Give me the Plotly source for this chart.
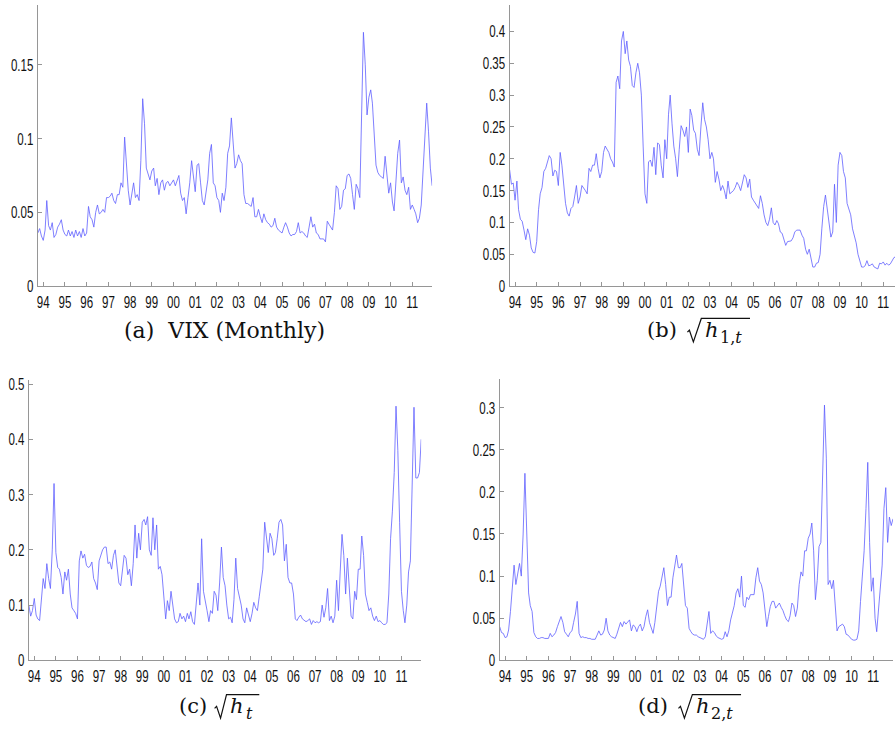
import pandas as pd
import plotly.graph_objects as go

# Monthly observations, Oct 1993 onwards
start = "1993-10-01"

vix = [0.036, 0.039, 0.034, 0.031, 0.038, 0.058, 0.041, 0.038, 0.043, 0.033, 0.035, 0.040,
       0.042, 0.045, 0.038, 0.035, 0.034, 0.038, 0.034, 0.037, 0.033, 0.038, 0.034, 0.037,
       0.033, 0.039, 0.034, 0.036, 0.054, 0.047, 0.045, 0.040, 0.050, 0.055, 0.049, 0.050,
       0.052, 0.050, 0.060, 0.060, 0.061, 0.063, 0.058, 0.056, 0.062, 0.062, 0.070, 0.067,
       0.101, 0.080, 0.065, 0.055, 0.062, 0.070, 0.060, 0.062, 0.058, 0.085, 0.127, 0.110,
       0.080, 0.075, 0.072, 0.078, 0.080, 0.068, 0.073, 0.062, 0.070, 0.072, 0.065, 0.070,
       0.071, 0.068, 0.070, 0.072, 0.068, 0.071, 0.075, 0.063, 0.058, 0.060, 0.049, 0.060,
       0.070, 0.085, 0.075, 0.064, 0.082, 0.083, 0.070, 0.058, 0.055, 0.062, 0.072, 0.090,
       0.096, 0.070, 0.068, 0.060, 0.058, 0.050, 0.063, 0.058, 0.067, 0.090, 0.095, 0.114,
       0.095, 0.080, 0.083, 0.089, 0.085, 0.083, 0.062, 0.056, 0.056, 0.055, 0.054, 0.060,
       0.047, 0.047, 0.052, 0.047, 0.043, 0.049, 0.045, 0.043, 0.042, 0.040, 0.041, 0.046,
       0.040, 0.038, 0.037, 0.036, 0.040, 0.043, 0.040, 0.036, 0.034, 0.035, 0.035, 0.037,
       0.043, 0.036, 0.037, 0.036, 0.034, 0.033, 0.040, 0.047, 0.040, 0.042, 0.036, 0.035,
       0.032, 0.032, 0.032, 0.030, 0.044, 0.042, 0.040, 0.038, 0.050, 0.068, 0.066, 0.052,
       0.054, 0.065, 0.066, 0.075, 0.076, 0.073, 0.062, 0.052, 0.069, 0.066, 0.060, 0.120,
       0.172, 0.150, 0.116, 0.128, 0.133, 0.124, 0.100, 0.082, 0.077, 0.075, 0.074, 0.073,
       0.088, 0.072, 0.063, 0.070, 0.057, 0.051, 0.068, 0.090, 0.099, 0.070, 0.074, 0.065,
       0.062, 0.067, 0.052, 0.055, 0.052, 0.049, 0.043, 0.046, 0.055, 0.080, 0.100, 0.124,
       0.105, 0.080, 0.068]

h1 = [0.183, 0.160, 0.162, 0.135, 0.165, 0.120, 0.105, 0.102, 0.088, 0.073, 0.090, 0.080,
      0.060, 0.053, 0.052, 0.070, 0.120, 0.145, 0.155, 0.180, 0.185, 0.195, 0.205, 0.200,
      0.173, 0.182, 0.180, 0.158, 0.210, 0.190, 0.160, 0.130, 0.115, 0.110, 0.122, 0.125,
      0.140, 0.158, 0.130, 0.140, 0.158, 0.155, 0.150, 0.145, 0.185, 0.180, 0.190, 0.190,
      0.208, 0.185, 0.170, 0.180, 0.210, 0.220, 0.215, 0.210, 0.200, 0.195, 0.187, 0.320,
      0.330, 0.310, 0.385, 0.400, 0.365, 0.385, 0.355, 0.345, 0.315, 0.312, 0.335, 0.350,
      0.335, 0.300, 0.220, 0.145, 0.130, 0.195, 0.198, 0.188, 0.218, 0.175, 0.225, 0.222,
      0.190, 0.170, 0.230, 0.200, 0.270, 0.300, 0.255, 0.220, 0.200, 0.172, 0.215, 0.252,
      0.245, 0.235, 0.250, 0.210, 0.278, 0.268, 0.245, 0.240, 0.215, 0.205, 0.250, 0.288,
      0.262, 0.250, 0.230, 0.200, 0.210, 0.200, 0.163, 0.180, 0.168, 0.150, 0.158, 0.150,
      0.137, 0.165, 0.145, 0.148, 0.150, 0.155, 0.163, 0.158, 0.150, 0.162, 0.175, 0.170,
      0.155, 0.168, 0.140, 0.135, 0.130, 0.125, 0.122, 0.142, 0.130, 0.112, 0.100, 0.095,
      0.105, 0.123, 0.100, 0.096, 0.103, 0.098, 0.085, 0.083, 0.072, 0.064, 0.070, 0.070,
      0.071, 0.076, 0.085, 0.088, 0.088, 0.088, 0.080, 0.075, 0.058, 0.050, 0.058, 0.040,
      0.030, 0.030, 0.036, 0.037, 0.050, 0.090, 0.125, 0.143, 0.120, 0.095, 0.077, 0.085,
      0.160, 0.100, 0.190, 0.210, 0.205, 0.180, 0.170, 0.130, 0.120, 0.112, 0.090, 0.080,
      0.068, 0.050, 0.040, 0.030, 0.030, 0.032, 0.040, 0.032, 0.033, 0.035, 0.030, 0.028,
      0.027, 0.036, 0.035, 0.038, 0.033, 0.036, 0.033, 0.035, 0.040, 0.045, 0.046]

h = [0.100, 0.080, 0.090, 0.112, 0.082, 0.075, 0.072, 0.105, 0.148, 0.130, 0.175, 0.148,
     0.130, 0.200, 0.320, 0.195, 0.168, 0.165, 0.150, 0.120, 0.160, 0.145, 0.165, 0.120,
     0.095, 0.090, 0.085, 0.075, 0.180, 0.198, 0.185, 0.192, 0.172, 0.168, 0.170, 0.178,
     0.148, 0.140, 0.128, 0.180, 0.190, 0.200, 0.205, 0.205, 0.175, 0.178, 0.165, 0.190,
     0.200, 0.165, 0.140, 0.135, 0.170, 0.190, 0.185, 0.155, 0.165, 0.135, 0.175, 0.245,
     0.185, 0.230, 0.200, 0.250, 0.255, 0.245, 0.260, 0.200, 0.190, 0.258, 0.200, 0.245,
     0.165, 0.170, 0.155, 0.120, 0.075, 0.108, 0.090, 0.125, 0.100, 0.075, 0.068, 0.070,
     0.085, 0.075, 0.080, 0.070, 0.085, 0.075, 0.088, 0.070, 0.065, 0.100, 0.140, 0.100,
     0.220, 0.125, 0.110, 0.090, 0.070, 0.090, 0.085, 0.125, 0.118, 0.090, 0.140, 0.205,
     0.150, 0.135, 0.100, 0.075, 0.078, 0.068, 0.110, 0.185, 0.130, 0.115, 0.100, 0.075,
     0.068, 0.095, 0.080, 0.070, 0.085, 0.105, 0.095, 0.090, 0.115, 0.145, 0.165, 0.250,
     0.220, 0.195, 0.230, 0.220, 0.190, 0.195, 0.220, 0.250, 0.255, 0.245, 0.180, 0.210,
     0.150, 0.140, 0.140, 0.120, 0.075, 0.072, 0.078, 0.082, 0.075, 0.072, 0.070, 0.072,
     0.075, 0.065, 0.072, 0.068, 0.070, 0.068, 0.070, 0.100, 0.078, 0.095, 0.130, 0.072,
     0.080, 0.068, 0.080, 0.145, 0.090, 0.160, 0.228, 0.190, 0.120, 0.185, 0.120, 0.080,
     0.075, 0.125, 0.110, 0.165, 0.165, 0.225, 0.190, 0.120, 0.105, 0.090, 0.095, 0.080,
     0.072, 0.080, 0.070, 0.072, 0.068, 0.065, 0.065, 0.068, 0.120, 0.220, 0.270, 0.340,
     0.460, 0.380, 0.250, 0.125, 0.090, 0.068, 0.100, 0.160, 0.180, 0.300, 0.458, 0.330,
     0.330, 0.340, 0.400]

h2 = [0.040, 0.033, 0.032, 0.027, 0.028, 0.036, 0.058, 0.085, 0.113, 0.090, 0.105, 0.115,
      0.100, 0.150, 0.222, 0.160, 0.080, 0.065, 0.058, 0.033, 0.028, 0.026, 0.026, 0.027,
      0.027, 0.026, 0.026, 0.026, 0.032, 0.028, 0.030, 0.033, 0.040, 0.047, 0.052, 0.045,
      0.034, 0.031, 0.028, 0.033, 0.035, 0.045, 0.055, 0.070, 0.032, 0.027, 0.028, 0.027,
      0.027, 0.026, 0.026, 0.025, 0.025, 0.025, 0.030, 0.035, 0.030, 0.031, 0.036, 0.050,
      0.035, 0.030, 0.028, 0.027, 0.026, 0.031, 0.037, 0.045, 0.040, 0.046, 0.043, 0.046,
      0.048, 0.035, 0.042, 0.040, 0.034, 0.040, 0.043, 0.035, 0.040, 0.052, 0.060, 0.045,
      0.039, 0.032, 0.045, 0.062, 0.082, 0.088, 0.100, 0.110, 0.090, 0.065, 0.075, 0.075,
      0.098, 0.115, 0.125, 0.110, 0.110, 0.115, 0.090, 0.065, 0.062, 0.038, 0.034, 0.031,
      0.030, 0.030, 0.028, 0.027, 0.026, 0.025, 0.028, 0.045, 0.058, 0.032, 0.035, 0.033,
      0.029, 0.027, 0.026, 0.025, 0.026, 0.034, 0.028, 0.035, 0.048, 0.056, 0.065, 0.080,
      0.085, 0.075, 0.100, 0.065, 0.063, 0.075, 0.072, 0.078, 0.078, 0.078, 0.098, 0.110,
      0.094, 0.090, 0.080, 0.060, 0.040, 0.052, 0.064, 0.070, 0.070, 0.062, 0.065, 0.068,
      0.063, 0.059, 0.053, 0.048, 0.046, 0.053, 0.068, 0.065, 0.052, 0.062, 0.090, 0.105,
      0.100, 0.130, 0.130, 0.145, 0.150, 0.163, 0.130, 0.072, 0.095, 0.135, 0.140, 0.230,
      0.303, 0.240, 0.090, 0.095, 0.085, 0.095, 0.065, 0.035, 0.040, 0.042, 0.043, 0.040,
      0.031, 0.030, 0.027, 0.025, 0.024, 0.024, 0.025, 0.035, 0.070, 0.100, 0.130, 0.180,
      0.235, 0.140, 0.082, 0.098, 0.050, 0.034, 0.060, 0.095, 0.113, 0.180, 0.205, 0.140,
      0.170, 0.160, 0.168]

year_ticks = pd.date_range("1994-01-01", "2011-01-01", freq="YS")
year_labels = [d.strftime("%y") for d in year_ticks]

W, H = 895, 735
LINE = "rgb(95,95,255)"
AXIS = "rgb(150,150,150)"
TICKFONT = dict(family="Liberation Sans, Arial, sans-serif", size=17, color="#111")
SERIF = "DejaVu Serif, Liberation Serif, serif"

# panel placement in pixels: (left, right, top, bottom)
panels = [
    dict(s=vix, px=(32, 429, 0, 287), xend="2011-12-01", ymax=0.1905, dy=0.05),
    dict(s=h1, px=(507, 895, 0, 287), xend="2011-07-18", ymax=0.4415, dy=0.05),
    dict(s=h, px=(23, 418, 383, 669), xend="2011-12-01", ymax=0.507, dy=0.1),
    dict(s=h2, px=(497, 893, 382, 669), xend="2011-12-01", ymax=0.3337, dy=0.05),
]


def px_x(v):
    return v / W


def px_y(v):
    return 1 - v / H


fig = go.Figure()
annotations, shapes = [], []
layout = dict(width=W, height=H, margin=dict(l=0, r=0, t=0, b=0),
              paper_bgcolor="white", plot_bgcolor="white", showlegend=False)

for k, p in enumerate(panels, start=1):
    xs = pd.date_range(start, periods=len(p["s"]), freq="MS")
    xa = "x" if k == 1 else f"x{k}"
    ya = "y" if k == 1 else f"y{k}"
    fig.add_trace(go.Scatter(x=xs, y=p["s"], mode="lines", xaxis=xa, yaxis=ya,
                             line=dict(color=LINE, width=0.8), hoverinfo="skip"))
    l, r, t, b = p["px"]
    ax_common = dict(showgrid=False, zeroline=False, showline=True, linecolor=AXIS,
                     linewidth=1, mirror=False, ticks="inside", ticklen=4,
                     tickcolor=AXIS, tickwidth=1, tickfont=TICKFONT)
    layout[f"xaxis{'' if k == 1 else k}"] = dict(
        domain=[px_x(l), px_x(r)], anchor=ya, range=[start, p["xend"]],
        tickvals=year_ticks, ticktext=year_labels, ticklabelstandoff=0, **ax_common)
    layout[f"yaxis{'' if k == 1 else k}"] = dict(
        domain=[px_y(b), px_y(t)], anchor=xa, range=[0, p["ymax"]],
        dtick=p["dy"], tick0=0, ticklabelstandoff=0, **ax_common)


def text(s, x, y, size=21, anchor="left"):
    annotations.append(dict(text=s, xref="paper", yref="paper", x=px_x(x), y=px_y(y),
                            xanchor=anchor, yanchor="middle", showarrow=False,
                            font=dict(family=SERIF, size=size, color="#111")))


def radical(x0, width, x_end, y_top, y_bot):
    ym = y_bot - 10
    pts = [(x0, ym), (x0 + 2, ym - 2), (x0 + 6, y_bot), (x0 + width, y_top), (x_end, y_top)]
    path = "M " + " L ".join(f"{px_x(a):.5f},{px_y(c):.5f}" for a, c in pts)
    shapes.append(dict(type="path", path=path, xref="paper", yref="paper",
                       line=dict(color="#111", width=1.2)))


# (a) caption
text("(a)\u00a0\u00a0VIX (Monthly)", 220, 332, size=22, anchor="center")

# (b) sqrt(h_{1,t})
text("(b)", 643, 332)
radical(686, 14, 749, 320, 344)
text("<i>h</i>", 702, 332)
text("1,<i>t</i>", 717, 339, size=16)

# (c) sqrt(h_t)
text("(c)", 172, 716)
radical(210, 12, 255, 704, 728)
text("<i>h</i>", 224, 716)
text("<i>t</i>", 240, 723, size=16)

# (d) sqrt(h_{2,t})
text("(d)", 634, 716)
radical(677, 14, 740, 704, 728)
text("<i>h</i>", 693, 716)
text("2,<i>t</i>", 708, 723, size=16)

layout["annotations"] = annotations
layout["shapes"] = shapes
fig.update_layout(**layout)

# narrow the axis tick labels horizontally about their anchor point
squeeze_js = """
var gd = document.getElementById('{plot_id}');
function squeeze() {
  gd.querySelectorAll('.xaxislayer-above text, .yaxislayer-above text').forEach(function (t) {
    var x = parseFloat(t.getAttribute('x')) || 0;
    var suffix = ' translate(' + x + ',0) scale(0.68,1) translate(' + (-x) + ',0)';
    var tr = t.getAttribute('transform') || '';
    if (tr.slice(-suffix.length) !== suffix) {
      t.setAttribute('transform', tr + suffix);
    }
  });
}
squeeze();
gd.on('plotly_afterplot', squeeze);
var n = 0;
var timer = setInterval(function () { squeeze(); if (++n > 60) clearInterval(timer); }, 50);
"""
fig.write_html("out.html", post_script=squeeze_js)
